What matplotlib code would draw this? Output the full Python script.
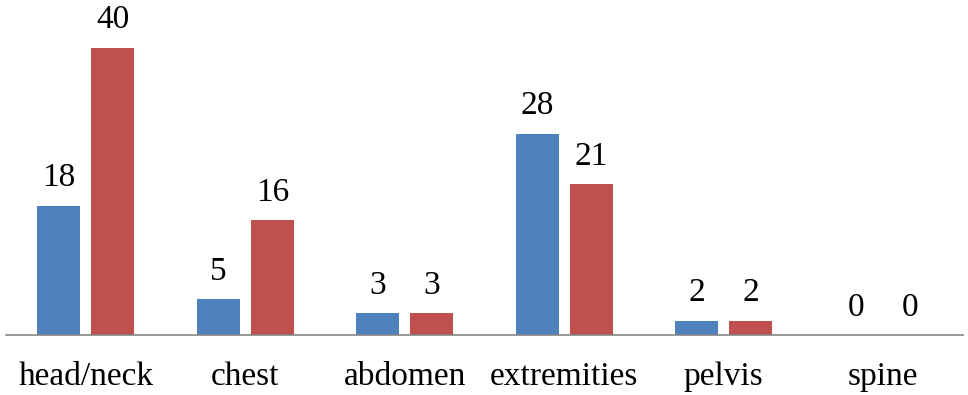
import numpy as np
import matplotlib.pyplot as plt

categories = ["head/neck", "chest", "abdomen", "extremities", "pelvis", "spine"]
series_a = [18, 5, 3, 28, 2, 0]
series_b = [40, 16, 3, 21, 2, 0]

blue = "#4F81BD"
red = "#C0504D"

plt.rcParams["font.family"] = ["Liberation Serif", "DejaVu Serif"]

fig = plt.figure(figsize=(9.68, 3.95), dpi=100)
ax = fig.add_axes([6 / 968, 60 / 395, 957 / 968, 335 / 395])

x = np.arange(len(categories))
width = 0.27
offset = 0.17

bars_a = ax.bar(x - offset, series_a, width, color=blue)
bars_b = ax.bar(x + offset, series_b, width, color=red)

# value labels above each bar
for bars, vals in [(bars_a, series_a), (bars_b, series_b)]:
    for b, v in zip(bars, vals):
        ax.annotate(
            str(v),
            (b.get_x() + b.get_width() / 2, v),
            xytext=(0, 9),
            textcoords="offset points",
            ha="center",
            va="bottom",
            fontsize=24,
        )

ax.set_xlim(-0.5, len(categories) - 0.5)
ax.set_ylim(0, 46.65)
ax.set_xticks(x)
ax.set_xticklabels(categories, fontsize=24)
ax.tick_params(axis="x", length=0, pad=19)
ax.set_yticks([])

for side in ["top", "right", "left"]:
    ax.spines[side].set_visible(False)
ax.spines["bottom"].set_color("#868686")
ax.spines["bottom"].set_linewidth(1.2)
ax.patch.set_visible(False)

fig.savefig("out.png", dpi=100)
